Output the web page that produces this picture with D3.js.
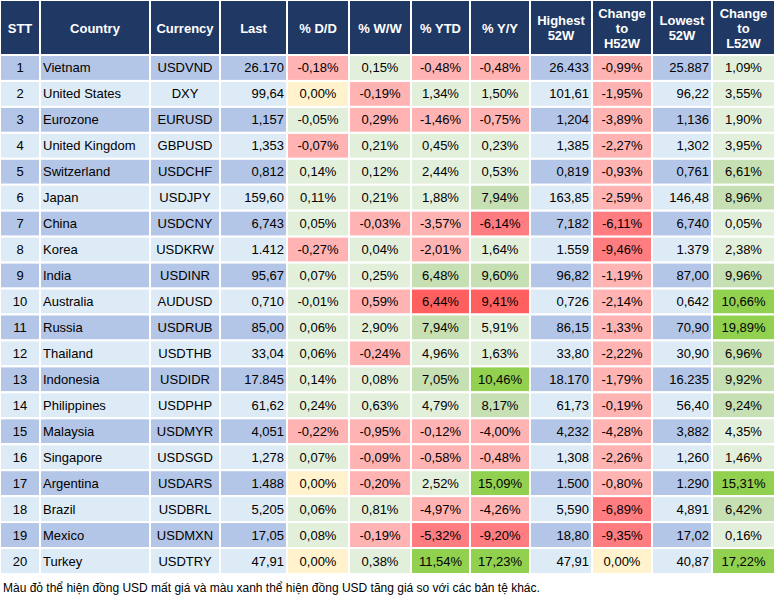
<!DOCTYPE html>
<html>
<head>
<meta charset="UTF-8">
<style>
  body { margin: 0; background: #fff; }
  text { font-family: Arial, "Liberation Sans", sans-serif; }
</style>
</head>
<body>
<svg></svg>
<script src="https://d3js.org/d3.v7.min.js"></script>
<script>
let width = 777, height = 602;

var headers = [["STT"], ["Country"], ["Currency"], ["Last"], ["% D/D"], ["% W/W"], ["% YTD"], ["% Y/Y"],
  ["Highest", "52W"], ["Change", "to", "H52W"], ["Lowest", "52W"], ["Change", "to", "L52W"]];
var countries = ["Vietnam","United States","Eurozone","United Kingdom","Switzerland","Japan","China","Korea","India","Australia",
  "Russia","Thailand","Indonesia","Philippines","Malaysia","Singapore","Argentina","Brazil","Mexico","Turkey"];
var currencies = ["USDVND","DXY","EURUSD","GBPUSD","USDCHF","USDJPY","USDCNY","USDKRW","USDINR","AUDUSD",
  "USDRUB","USDTHB","USDIDR","USDPHP","USDMYR","USDSGD","USDARS","USDBRL","USDMXN","USDTRY"];
var last = ["26.170","99,64","1,157","1,353","0,812","159,60","6,743","1.412","95,67","0,710",
  "85,00","33,04","17.845","61,62","4,051","1,278","1.488","5,205","17,05","47,91"];
var dd = ["-0,18%","0,00%","-0,05%","-0,07%","0,14%","0,11%","0,05%","-0,27%","0,07%","-0,01%",
  "0,06%","0,06%","0,14%","0,24%","-0,22%","0,07%","0,00%","0,06%","0,08%","0,00%"];
var ww = ["0,15%","-0,19%","0,29%","0,21%","0,12%","0,21%","-0,03%","0,04%","0,25%","0,59%",
  "2,90%","-0,24%","0,08%","0,63%","-0,95%","-0,09%","-0,20%","0,81%","-0,19%","0,38%"];
var ytd = ["-0,48%","1,34%","-1,46%","0,45%","2,44%","1,88%","-3,57%","-2,01%","6,48%","6,44%",
  "7,94%","4,96%","7,05%","4,79%","-0,12%","-0,58%","2,52%","-4,97%","-5,32%","11,54%"];
var yy = ["-0,48%","1,50%","-0,75%","0,23%","0,53%","7,94%","-6,14%","1,64%","9,60%","9,41%",
  "5,91%","1,63%","10,46%","8,17%","-4,00%","-0,48%","15,09%","-4,26%","-9,20%","17,23%"];
var high52 = ["26.433","101,61","1,204","1,385","0,819","163,85","7,182","1.559","96,82","0,726",
  "86,15","33,80","18.170","61,73","4,232","1,308","1.500","5,590","18,80","47,91"];
var chgH = ["-0,99%","-1,95%","-3,89%","-2,27%","-0,93%","-2,59%","-6,11%","-9,46%","-1,19%","-2,14%",
  "-1,33%","-2,22%","-1,79%","-0,19%","-4,28%","-2,26%","-0,80%","-6,89%","-9,35%","0,00%"];
var low52 = ["25.887","96,22","1,136","1,302","0,761","146,48","6,740","1.379","87,00","0,642",
  "70,90","30,90","16.235","56,40","3,882","1,260","1.290","4,891","17,02","40,87"];
var chgL = ["1,09%","3,55%","1,90%","3,95%","6,61%","8,96%","0,05%","2,38%","9,96%","10,66%",
  "19,89%","6,96%","9,92%","9,24%","4,35%","1,46%","15,31%","6,42%","0,16%","17,22%"];
// heat class per row for D/D, W/W, YTD, Y/Y, ChgH, ChgL
var heat = ["rgrrrg","yrggrg","grrrrg","rgggrg","ggggrG","gggGrG","grrRRg","rgrgRg","ggGGrG","grXXrV",
  "ggGgrV","grggrG","ggGVrG","gggGrG","rrrrrg","grrrrg","yrgVrV","ggrrRG","grRRRg","ygVVyV"];
var footnote = "Màu đỏ thể hiện đồng USD mất giá và màu xanh thể hiện đồng USD tăng giá so với các bản tệ khác.";

var heatColor = { g: "#e2efda", G: "#c6e0b4", V: "#92d050", r: "#ffb3b3", R: "#ff7c80", X: "#ff5f5f", y: "#fff2cc" };
var colEdges = [0, 40, 150, 220, 287, 349, 411, 470, 530, 592, 652, 712, 775];
var heatCols = { 4: 0, 5: 1, 6: 2, 7: 3, 9: 4, 11: 5 };
var align = ["middle", "start", "middle", "end", "middle", "middle", "middle", "middle", "end", "middle", "end", "middle"];

let svg = d3.select("svg").attr("width", width).attr("height", height);

var headTop = 0, headBottom = 55, rowH = 25.95;
var y = d3.scaleBand().domain(d3.range(20)).range([headBottom, headBottom + rowH * 20]).paddingInner(0);

// header
headers.forEach(function(h, c) {
  var x0 = colEdges[c], x1 = colEdges[c + 1];
  svg.append("rect").attr("x", x0).attr("y", headTop).attr("width", x1 - x0).attr("height", headBottom - headTop)
    .attr("fill", "#1f3864").attr("stroke", "#fff").attr("stroke-width", 2);
  var lh = 15, startY = (headBottom + headTop) / 2 - (h.length - 1) * lh / 2 + 5;
  h.forEach(function(line, i) {
    svg.append("text").attr("x", (x0 + x1) / 2).attr("y", startY + i * lh)
      .attr("text-anchor", "middle").attr("fill", "#fff").attr("font-size", 13).attr("font-weight", "bold").text(line);
  });
});

// body
var rows = countries.map(function(c, i) {
  return [String(i + 1), c, currencies[i], last[i], dd[i], ww[i], ytd[i], yy[i], high52[i], chgH[i], low52[i], chgL[i]];
});
rows.forEach(function(r, i) {
  var base = i % 2 === 0 ? "#b4c6e7" : "#ddebf7";
  r.forEach(function(v, c) {
    var x0 = colEdges[c], x1 = colEdges[c + 1];
    var fill = c in heatCols ? heatColor[heat[i][heatCols[c]]] : base;
    svg.append("rect").attr("x", x0).attr("y", y(i)).attr("width", x1 - x0).attr("height", y.bandwidth())
      .attr("fill", fill).attr("stroke", "#fff").attr("stroke-width", 2);
    var tx = align[c] === "start" ? x0 + 3 : align[c] === "end" ? x1 - 3 : (x0 + x1) / 2;
    svg.append("text").attr("x", tx).attr("y", y(i) + y.bandwidth() / 2 + 4.5)
      .attr("text-anchor", align[c]).attr("fill", "#000").attr("font-size", 13).text(v);
  });
});

svg.append("text").attr("x", 3).attr("y", 592).attr("font-size", 12).attr("fill", "#000").text(footnote);
</script>
</body>
</html>
